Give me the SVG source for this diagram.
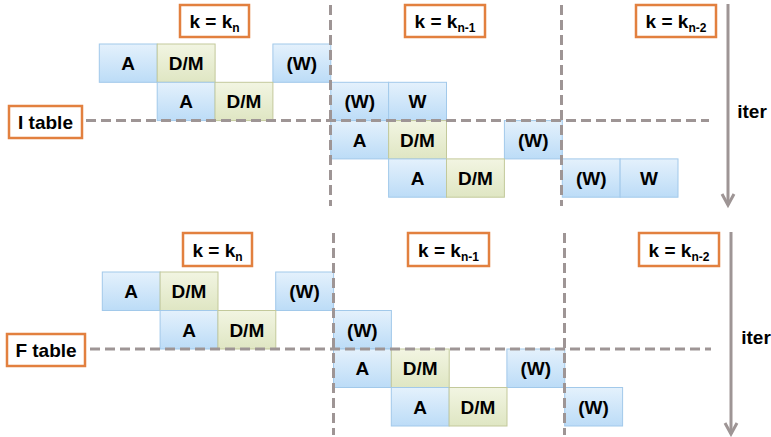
<svg xmlns="http://www.w3.org/2000/svg" width="771" height="437" viewBox="0 0 771 437">
  <defs>
    <linearGradient id="gBlue" x1="0" y1="0" x2="0" y2="1">
      <stop offset="0" stop-color="#e4f1fc"/>
      <stop offset="1" stop-color="#bcdcf7"/>
    </linearGradient>
    <linearGradient id="gGreen" x1="0" y1="0" x2="0" y2="1">
      <stop offset="0" stop-color="#f2f5e2"/>
      <stop offset="1" stop-color="#dfe6c3"/>
    </linearGradient>
  </defs>
  <style>
    text { font-family: "Liberation Sans", Arial, sans-serif; font-weight: bold; fill: #000; }
    .cell { font-size: 19px; text-anchor: middle; }
    .b { fill: url(#gBlue); stroke: #a2c9ea; stroke-width: 1; }
    .g { fill: url(#gGreen); stroke: #c3c99b; stroke-width: 1; }
    .lbl { fill: #fff; stroke: #e2803f; stroke-width: 2.5; }
    .lt { font-size: 19px; text-anchor: middle; }
    .sub { font-size: 12px; }
    .dash { stroke: #9e9595; stroke-width: 3; stroke-dasharray: 10 5; fill: none; }
    .arr { stroke: #9e9595; stroke-width: 3; fill: none; }
  </style>
  <rect width="771" height="437" fill="#fff"/>

  <!-- I table -->
  <g id="itable-cells">
    <g id="i-a0"><rect class="b" x="99.3" y="44" width="57.9" height="38.3"/><text class="cell" x="128.2" y="70">A</text></g>
    <g id="i-dm0"><rect class="g" x="157.2" y="44" width="57.9" height="38.3"/><text class="cell" x="186.1" y="70">D/M</text></g>
    <g id="i-w0"><rect class="b" x="272.9" y="44" width="57.9" height="38.3"/><text class="cell" x="301.8" y="70">(W)</text></g>

    <g id="i-a1"><rect class="b" x="157.2" y="82.3" width="57.9" height="38.3"/><text class="cell" x="186.1" y="108.3">A</text></g>
    <g id="i-dm1"><rect class="g" x="215" y="82.3" width="57.9" height="38.3"/><text class="cell" x="243.9" y="108.3">D/M</text></g>
    <g id="i-w1"><rect class="b" x="330.8" y="82.3" width="57.9" height="38.3"/><text class="cell" x="359.7" y="108.3">(W)</text></g>
    <g id="i-W1"><rect class="b" x="388.6" y="82.3" width="57.9" height="38.3"/><text class="cell" x="417.5" y="108.3">W</text></g>

    <g id="i-a2"><rect class="b" x="330.8" y="120.6" width="57.9" height="38.3"/><text class="cell" x="359.7" y="146.6">A</text></g>
    <g id="i-dm2"><rect class="g" x="388.6" y="120.6" width="57.9" height="38.3"/><text class="cell" x="417.5" y="146.6">D/M</text></g>
    <g id="i-w2"><rect class="b" x="504.4" y="120.6" width="57.9" height="38.3"/><text class="cell" x="533.3" y="146.6">(W)</text></g>

    <g id="i-a3"><rect class="b" x="388.6" y="158.9" width="57.9" height="38.3"/><text class="cell" x="417.5" y="184.9">A</text></g>
    <g id="i-dm3"><rect class="g" x="446.5" y="158.9" width="57.9" height="38.3"/><text class="cell" x="475.4" y="184.9">D/M</text></g>
    <g id="i-w3"><rect class="b" x="562.3" y="158.9" width="57.9" height="38.3"/><text class="cell" x="591.2" y="184.9">(W)</text></g>
    <g id="i-W3"><rect class="b" x="620.1" y="158.9" width="57.9" height="38.3"/><text class="cell" x="649" y="184.9">W</text></g>
  </g>

  <!-- F table -->
  <g id="ftable-cells">
    <g id="f-a0"><rect class="b" x="102.3" y="272" width="57.9" height="38.5"/><text class="cell" x="131.2" y="298.1">A</text></g>
    <g id="f-dm0"><rect class="g" x="160.1" y="272" width="57.9" height="38.5"/><text class="cell" x="189" y="298.1">D/M</text></g>
    <g id="f-w0"><rect class="b" x="275.7" y="272" width="57.9" height="38.5"/><text class="cell" x="304.6" y="298.1">(W)</text></g>

    <g id="f-a1"><rect class="b" x="160.1" y="310.5" width="57.9" height="38.5"/><text class="cell" x="189" y="336.6">A</text></g>
    <g id="f-dm1"><rect class="g" x="217.9" y="310.5" width="57.9" height="38.5"/><text class="cell" x="246.8" y="336.6">D/M</text></g>
    <g id="f-w1"><rect class="b" x="333.5" y="310.5" width="57.9" height="38.5"/><text class="cell" x="362.4" y="336.6">(W)</text></g>

    <g id="f-a2"><rect class="b" x="333.5" y="349" width="57.9" height="38.5"/><text class="cell" x="362.4" y="375.1">A</text></g>
    <g id="f-dm2"><rect class="g" x="391.3" y="349" width="57.9" height="38.5"/><text class="cell" x="420.2" y="375.1">D/M</text></g>
    <g id="f-w2"><rect class="b" x="506.9" y="349" width="57.9" height="38.5"/><text class="cell" x="535.8" y="375.1">(W)</text></g>

    <g id="f-a3"><rect class="b" x="391.3" y="387.5" width="57.9" height="38.5"/><text class="cell" x="420.2" y="413.6">A</text></g>
    <g id="f-dm3"><rect class="g" x="449.1" y="387.5" width="57.9" height="38.5"/><text class="cell" x="478" y="413.6">D/M</text></g>
    <g id="f-w3"><rect class="b" x="564.7" y="387.5" width="57.9" height="38.5"/><text class="cell" x="593.6" y="413.6">(W)</text></g>
  </g>

  <!-- dashed separators and iteration arrows -->
  <g id="connectors">
    <line class="dash" x1="330.5" y1="5" x2="330.5" y2="206"/>
    <line class="dash" x1="561.5" y1="5" x2="561.5" y2="206"/>
    <line class="dash" x1="86" y1="120.5" x2="709" y2="120.5"/>
    <line class="dash" x1="333.5" y1="233" x2="333.5" y2="435"/>
    <line class="dash" x1="564.5" y1="233" x2="564.5" y2="435"/>
    <line class="dash" x1="90" y1="349" x2="711" y2="349"/>
    <line class="arr" x1="728" y1="4" x2="728" y2="205"/>
    <polyline class="arr" points="722,194 728,205 734,194"/>
    <line class="arr" x1="731" y1="232" x2="731" y2="434"/>
    <polyline class="arr" points="725,423 731,434 737,423"/>
  </g>

  <!-- k labels -->
  <g id="i-k0"><rect class="lbl" x="180" y="5" width="69" height="32"/><text class="lt" x="214.5" y="28">k = k<tspan class="sub" dy="4">n</tspan></text></g>
  <g id="i-k1"><rect class="lbl" x="405" y="5" width="80" height="32"/><text class="lt" x="445" y="28">k = k<tspan class="sub" dy="4">n-1</tspan></text></g>
  <g id="i-k2"><rect class="lbl" x="636" y="5" width="80" height="32"/><text class="lt" x="676" y="28">k = k<tspan class="sub" dy="4">n-2</tspan></text></g>
  <g id="f-k0"><rect class="lbl" x="183" y="233" width="69" height="33"/><text class="lt" x="217.5" y="256.5">k = k<tspan class="sub" dy="4">n</tspan></text></g>
  <g id="f-k1"><rect class="lbl" x="408" y="233" width="81" height="33"/><text class="lt" x="448.5" y="256.5">k = k<tspan class="sub" dy="4">n-1</tspan></text></g>
  <g id="f-k2"><rect class="lbl" x="639" y="233" width="80" height="33"/><text class="lt" x="679" y="256.5">k = k<tspan class="sub" dy="4">n-2</tspan></text></g>

  <!-- table labels -->
  <g id="i-table"><rect class="lbl" x="9" y="106" width="73" height="32"/><text class="lt" x="45.5" y="129">I table</text></g>
  <g id="f-table"><rect class="lbl" x="7" y="334" width="78" height="32"/><text class="lt" x="46" y="357">F table</text></g>

  <!-- iter captions -->
  <text id="i-iter" class="lt" x="752" y="117.5">iter</text>
  <text id="f-iter" class="lt" x="756" y="343.5">iter</text>
</svg>
